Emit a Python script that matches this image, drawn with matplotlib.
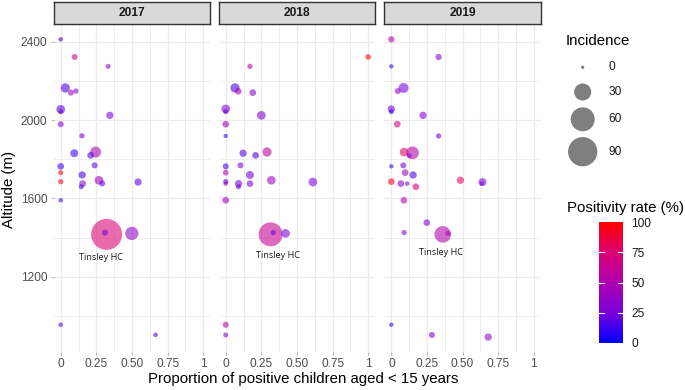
import numpy as np
import matplotlib
matplotlib.use('Agg')
import matplotlib.pyplot as plt
from matplotlib.colors import LinearSegmentedColormap, Normalize
from matplotlib.cm import ScalarMappable

plt.rcParams['font.family'] = ['Liberation Sans', 'DejaVu Sans']

years = ['2017', '2018', '2019']

prop_2017 = [0, 0.098, 0.333, 0.032, 0.072, 0.107, 0, 0, 0.345, 0, 0.149, 0.095, 0.245, 0.21, 0,
             0.238, 0, 0.151, 0, 0.154, 0.144, 0.268, 0.291, 0.543, 0, 0.322, 0.31, 0.499, 0, 0.666]
alt_2017 = [2412, 2322, 2274, 2164, 2140, 2148, 2055, 2043, 2024, 1979, 1920, 1831, 1837, 1820, 1764,
            1769, 1732, 1720, 1686, 1676, 1660, 1693, 1677, 1684, 1591, 1417, 1426, 1422, 956, 904]
inc_2017 = [1, 2.7, 1.5, 8, 2.7, 1.8, 6.9, 1.5, 4.5, 2.7, 1.8, 5.6, 11.7, 3.6, 3.6,
            2.7, 1.5, 4.5, 1.8, 3.6, 1.5, 6.9, 2.7, 4.5, 1, 101, 2.7, 17.7, 1, 1]
rate_2017 = [15, 62, 30, 15, 45, 28, 20, 20, 25, 28, 22, 12, 50, 15, 12,
             20, 95, 15, 95, 35, 15, 45, 20, 18, 15, 75, 25, 35, 15, 15]

prop_2018 = [1.0, 0.17, 0.065, 0.088, 0.19, 0, 0, 0.25, 0, 0, 0.122, 0.29, 0.21, 0, 0.104,
             0, 0.17, 0, 0, 0.09, 0.09, 0.17, 0.32, 0.612, 0, 0.315, 0.334, 0.42, 0, 0]
alt_2018 = [2322, 2274, 2164, 2147, 2140, 2057, 2043, 2024, 1979, 1919, 1831, 1837, 1820, 1764, 1769,
            1732, 1720, 1686, 1676, 1676, 1660, 1676, 1693, 1684, 1591, 1417, 1426, 1422, 956, 904]
inc_2018 = [2.3, 1.8, 8, 3.6, 3.6, 6.9, 1.5, 6.9, 3.6, 0.8, 4.5, 8, 3.6, 2.7, 2.7,
            2.3, 5.6, 1.8, 1, 4.5, 1.5, 3.6, 6.9, 6.9, 3.6, 60, 1.8, 6.9, 2.7, 1.5]
rate_2018 = [95, 55, 15, 48, 28, 25, 20, 28, 42, 8, 15, 55, 15, 15, 28,
             48, 25, 20, 42, 28, 20, 28, 42, 28, 42, 62, 20, 25, 55, 28]

prop_2019 = [0, 0.332, 0, 0.086, 0.045, 0, 0, 0.223, 0.042, 0.332, 0.09, 0.149, 0.125, 0, 0.084, 0.097,
             0.153, 0, 0.067, 0.111, 0.172, 0.485, 0.64, 0.635, 0.088, 0.249, 0.09, 0.361, 0.398, 0, 0.285, 0.68]
alt_2019 = [2412, 2322, 2274, 2164, 2148, 2057, 2043, 2024, 1979, 1919, 1837, 1833, 1818, 1764, 1769, 1732,
            1720, 1686, 1676, 1676, 1660, 1693, 1684, 1676, 1591, 1477, 1426, 1417, 1422, 956, 904, 893]
inc_2019 = [3, 3, 0.8, 9.5, 2.7, 4.5, 1.5, 4.5, 3.6, 1.8, 6.9, 16, 1.5, 0.8, 2.7, 3.6,
            4.5, 3.6, 3.6, 1, 3.6, 4.5, 5.6, 1, 3.6, 3.6, 1.8, 28, 1.8, 0.8, 2.7, 4.5]
rate_2019 = [48, 28, 8, 25, 42, 25, 13, 25, 72, 25, 78, 55, 35, 8, 25, 42,
             15, 90, 28, 28, 72, 78, 28, 25, 48, 28, 28, 50, 55, 8, 25, 35]

label_text = 'Tinsley HC'
label_dx = [-0.04, 0.055, -0.01]
label_dy = [-117, -109, -90]

x_ticks = [0, 0.25, 0.5, 0.75, 1]
x_ticklabels = ['0', '0.25', '0.50', '0.75', '1']
y_ticks = [1200, 1600, 2000, 2400]
legend_inc = [0, 30, 60, 90]
cbar_ticks = [0, 25, 50, 75, 100]

data = {
    '2017': (prop_2017, alt_2017, inc_2017, rate_2017),
    '2018': (prop_2018, alt_2018, inc_2018, rate_2018),
    '2019': (prop_2019, alt_2019, inc_2019, rate_2019),
}

W, H = 685, 390
fig = plt.figure(figsize=(W / 100, H / 100), dpi=100)

cmap = LinearSegmentedColormap.from_list(
    'bluered', ['#0000FF', '#7A00DA', '#AE00AE', '#DA0072', '#FF0000'])
norm = Normalize(0, 100)


def size_pts(v):
    d_px = np.sqrt(11 + 9.41 * np.asarray(v, dtype=float))
    return (d_px * 0.72) ** 2


def fx(px):
    return px / W


def fy(py):
    return 1 - py / H


panel_left = [53.6, 218.6, 384.2]
panel_w = 156.7
p_top, p_bot = 25.0, 352.0
tick_color = '#4D4D4D'

for i, yr in enumerate(years):
    ax = fig.add_axes([fx(panel_left[i]), fy(p_bot), panel_w / W, (p_bot - p_top) / H])
    ax.set_xlim(-0.05, 1.05)
    ax.set_ylim(817, 2485)
    for s in ax.spines.values():
        s.set_visible(False)
    ax.set_xticks(x_ticks)
    ax.set_xticklabels(x_ticklabels)
    ax.set_xticks([0.125, 0.375, 0.625, 0.875], minor=True)
    ax.set_yticks(y_ticks)
    ax.set_yticks([1000, 1400, 1800, 2200], minor=True)
    if i > 0:
        ax.set_yticklabels([])
    ax.grid(which='major', color='#EBEBEB', lw=0.9)
    ax.grid(which='minor', color='#EBEBEB', lw=0.6)
    ax.set_axisbelow(True)
    ax.tick_params(which='major', length=2.5, width=0.7, color='#B0B0B0',
                   labelsize=8.6, labelcolor=tick_color, pad=2)
    ax.tick_params(axis='y', which='major', length=2.5 if i == 0 else 0)
    ax.tick_params(which='minor', length=0)
    ax.set_facecolor('white')

    x, y, inc, rate = data[yr]
    ax.scatter(x, y, s=size_pts(inc), c=rate, cmap=cmap, norm=norm,
               alpha=0.58, linewidths=0, zorder=3)
    k = int(np.argmax(inc))
    ax.text(x[k] + label_dx[i], y[k] + label_dy[i], label_text,
            family=['Open Sans', 'DejaVu Sans'], fontsize=6.6, color='#1A1A1A',
            ha='center', va='center', zorder=4)

    # strip
    sax = fig.add_axes([fx(panel_left[i]), fy(24.3), panel_w / W, (24.3 - 1.7) / H])
    sax.set_facecolor('#D9D9D9')
    sax.set_xticks([])
    sax.set_yticks([])
    for s in sax.spines.values():
        s.set_color('#333333')
        s.set_linewidth(1.0)
    sax.text(0.5, 0.5, yr, ha='center', va='center', fontsize=8.6,
             fontweight='bold', color='#1A1A1A', transform=sax.transAxes)

# axis titles
fig.text(fx(303), fy(379), 'Proportion of positive children aged < 15 years',
         ha='center', va='center', fontsize=10.8, color='black')
fig.text(fx(9), fy(189), 'Altitude (m)', ha='center', va='center',
         rotation=90, fontsize=10.8, color='black')

# size legend
lax = fig.add_axes([0, 0, 1, 1], facecolor='none')
lax.set_xlim(0, W)
lax.set_ylim(H, 0)
lax.axis('off')
lax.text(565.7, 41, 'Incidence', fontsize=10.8, ha='left', va='center')
leg_y = [67.3, 92, 119.3, 151.7]
lax.scatter([582.7] * len(legend_inc), leg_y, s=size_pts(legend_inc),
            color='black', alpha=0.5, linewidths=0)
for v, yy in zip(legend_inc, leg_y):
    lax.text(608.7, yy, str(v), fontsize=8.6, ha='left', va='center', color='#1A1A1A')

# colour bar
lax.text(566.7, 208, 'Positivity rate (%)', fontsize=10.8, ha='left', va='center')
cax = fig.add_axes([fx(598.7), fy(342.7), 24 / W, (342.7 - 222.3) / H])
sm = ScalarMappable(norm=norm, cmap=cmap)
cb = fig.colorbar(sm, cax=cax, ticks=cbar_ticks)
cb.outline.set_visible(False)
cax.tick_params(length=0, labelsize=8.6, labelcolor='#1A1A1A', pad=6)
tr = cax.get_yaxis_transform()
for v in cbar_ticks[1:-1]:
    cax.plot([0, 0.2], [v, v], color='white', lw=0.8, transform=tr)
    cax.plot([0.8, 1], [v, v], color='white', lw=0.8, transform=tr)

fig.savefig('out.png', dpi=100)
